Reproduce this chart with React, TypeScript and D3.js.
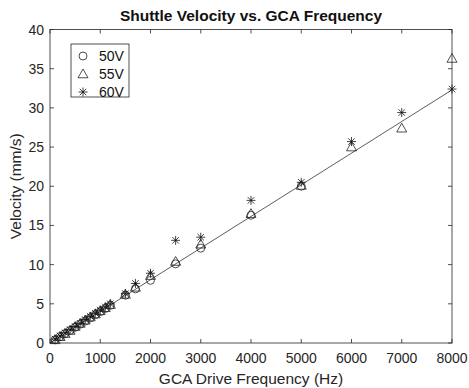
import React, { useEffect, useRef } from 'react';
import * as d3 from 'd3';

const freq50 = [100, 200, 300, 400, 500, 600, 700, 800, 900, 1000, 1100, 1200, 1500, 1700, 2000, 2500, 3000, 4000, 5000];
const vel50 = [0.4, 0.8, 1.2, 1.6, 2.0, 2.4, 2.8, 3.2, 3.6, 4.0, 4.4, 4.8, 6.1, 6.9, 8.0, 10.1, 12.1, 16.3, 20.0];

const freq55 = [100, 200, 300, 400, 500, 600, 700, 800, 900, 1000, 1100, 1200, 1500, 1700, 2000, 2500, 3000, 4000, 5000, 6000, 7000, 8000];
const vel55 = [0.4, 0.8, 1.2, 1.6, 2.1, 2.5, 2.9, 3.3, 3.7, 4.1, 4.5, 4.9, 6.2, 7.1, 8.6, 10.4, 12.6, 16.5, 20.1, 25.0, 27.4, 36.3];

const freq60 = [100, 200, 300, 400, 500, 600, 700, 800, 900, 1000, 1100, 1200, 1500, 1700, 2000, 2500, 3000, 4000, 5000, 6000, 7000, 8000];
const vel60 = [0.5, 0.9, 1.3, 1.7, 2.1, 2.5, 3.0, 3.4, 3.8, 4.2, 4.6, 5.0, 6.3, 7.6, 8.9, 13.1, 13.5, 18.2, 20.5, 25.7, 29.4, 32.4];

const fitX = [0, 8000];
const fitY = [0, 32.3];

const labels = ['50V', '55V', '60V'];
const xTicks = [0, 1000, 2000, 3000, 4000, 5000, 6000, 7000, 8000];
const yTicks = [0, 5, 10, 15, 20, 25, 30, 35, 40];

const font = 'Liberation Sans, Arial, Helvetica, sans-serif';

function marker(g: any, kind: number, x: number, y: number) {
  if (kind === 0) {
    g.append('circle').attr('cx', x).attr('cy', y).attr('r', 4)
      .attr('fill', 'none').attr('stroke', '#222').attr('stroke-width', 0.8);
  } else if (kind === 1) {
    const s = 5;
    g.append('path')
      .attr('d', `M${x},${y - s}L${x + s},${y + s * 0.75}L${x - s},${y + s * 0.75}Z`)
      .attr('fill', 'none').attr('stroke', '#222').attr('stroke-width', 0.8);
  } else {
    const s = 4.5, d = s * 0.72;
    g.append('path')
      .attr('d', `M${x - s},${y}L${x + s},${y}M${x},${y - s}L${x},${y + s}M${x - d},${y - d}L${x + d},${y + d}M${x - d},${y + d}L${x + d},${y - d}`)
      .attr('fill', 'none').attr('stroke', '#111').attr('stroke-width', 0.8);
  }
}

const App = () => {
  const ref = useRef<SVGSVGElement>(null);

  useEffect(() => {
    const svg = d3.select(ref.current);
    svg.selectAll('*').remove();

    const margin = { top: 29.5, left: 50, right: 17, bottom: 45 };
    const width = 469, height = 388;

    const x = d3.scaleLinear().domain([0, 8000]).range([margin.left, width - margin.right]);
    const y = d3.scaleLinear().domain([0, 40]).range([height - margin.bottom, margin.top]);

    // box
    svg.append('rect')
      .attr('x', x(0)).attr('y', y(40))
      .attr('width', x(8000) - x(0)).attr('height', y(0) - y(40))
      .attr('fill', 'white').attr('stroke', '#262626').attr('stroke-width', 0.8);

    const tl = 4;
    const ax = svg.append('g').attr('stroke', '#262626').attr('stroke-width', 0.8);
    xTicks.forEach(t => {
      ax.append('line').attr('x1', x(t)).attr('x2', x(t)).attr('y1', y(0)).attr('y2', y(0) - tl);
      ax.append('line').attr('x1', x(t)).attr('x2', x(t)).attr('y1', y(40)).attr('y2', y(40) + tl);
    });
    yTicks.forEach(t => {
      ax.append('line').attr('x1', x(0)).attr('x2', x(0) + tl).attr('y1', y(t)).attr('y2', y(t));
      ax.append('line').attr('x1', x(8000)).attr('x2', x(8000) - tl).attr('y1', y(t)).attr('y2', y(t));
    });

    svg.append('g').selectAll('text').data(xTicks).enter().append('text')
      .attr('x', d => x(d)).attr('y', y(0) + 20)
      .attr('text-anchor', 'middle').attr('font-family', font).attr('font-size', 14).attr('fill', '#262626')
      .text(d => d);
    svg.append('g').selectAll('text').data(yTicks).enter().append('text')
      .attr('x', x(0) - 6).attr('y', d => y(d) + 5)
      .attr('text-anchor', 'end').attr('font-family', font).attr('font-size', 14).attr('fill', '#262626')
      .text(d => d);

    svg.append('text').attr('x', (x(0) + x(8000)) / 2).attr('y', 384)
      .attr('text-anchor', 'middle').attr('font-family', font).attr('font-size', 15.5).attr('fill', '#262626')
      .text('GCA Drive Frequency (Hz)');
    svg.append('text')
      .attr('transform', `translate(21,${(y(0) + y(40)) / 2}) rotate(-90)`)
      .attr('text-anchor', 'middle').attr('font-family', font).attr('font-size', 15.5).attr('fill', '#262626')
      .text('Velocity (mm/s)');
    svg.append('text').attr('x', (x(0) + x(8000)) / 2).attr('y', 21)
      .attr('text-anchor', 'middle').attr('font-family', font).attr('font-size', 15.5).attr('font-weight', 'bold').attr('fill', '#111')
      .text('Shuttle Velocity vs. GCA Frequency');

    // fit line
    const line = d3.line<number>().x((d, i) => x(fitX[i])).y(d => y(d));
    svg.append('path').attr('d', line(fitY) as string)
      .attr('fill', 'none').attr('stroke', '#333').attr('stroke-width', 0.8);

    const series = [[freq50, vel50], [freq55, vel55], [freq60, vel60]];
    series.forEach(([fs, vs], k) => {
      const g = svg.append('g');
      fs.forEach((f, i) => marker(g, k, x(f), y(vs[i])));
    });

    // legend
    const lg = svg.append('g');
    lg.append('rect').attr('x', 71).attr('y', 44).attr('width', 58).attr('height', 53)
      .attr('fill', 'white').attr('stroke', '#262626').attr('stroke-width', 0.8);
    labels.forEach((l, i) => {
      const cy = 56 + i * 18;
      marker(lg, i, 83, cy);
      lg.append('text').attr('x', 99).attr('y', cy + 5)
        .attr('font-family', font).attr('font-size', 14).attr('fill', '#111').text(l);
    });
  }, []);

  return (
    <svg ref={ref} width={469} height={388}
      style={{ position: 'absolute', left: 0, top: 0, background: 'white' }} />
  );
};

export default App;
